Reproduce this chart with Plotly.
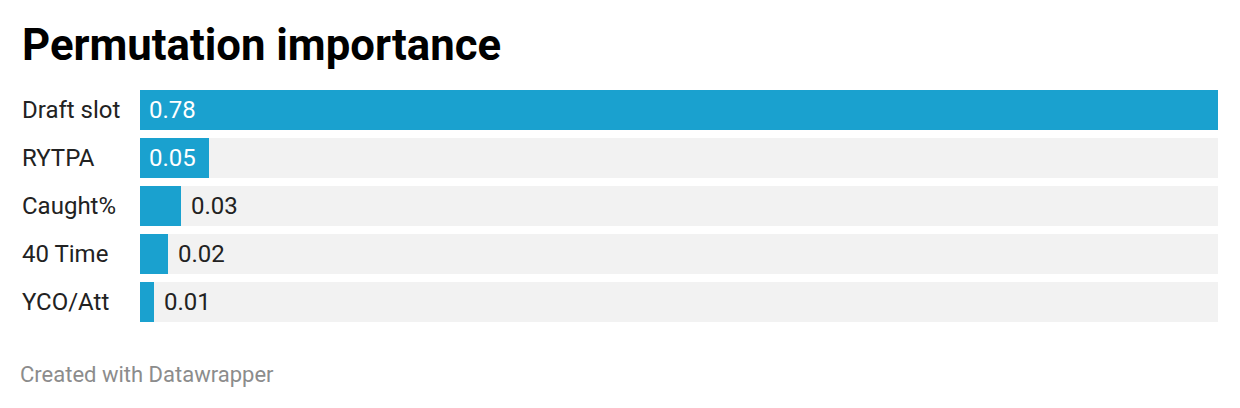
import plotly.graph_objects as go

categories = ["Draft slot", "RYTPA", "Caught%", "40 Time", "YCO/Att"]
values = [0.78, 0.05, 0.03, 0.02, 0.01]
value_labels = ["0.78", "0.05", "0.03", "0.02", "0.01"]
inside_label = [True, True, False, False, False]

title = "Permutation importance"
footer = "Created with Datawrapper"

BAR = "#1aa1cf"
BG = "#f2f2f2"
FONT = "Roboto"
vmax = max(values)

fig = go.Figure()
fig.add_trace(go.Bar(
    y=categories, x=[vmax] * len(categories), orientation="h",
    marker=dict(color=BG, line=dict(width=0)), width=40 / 48,
    hoverinfo="skip", showlegend=False,
))
fig.add_trace(go.Bar(
    y=categories, x=values, orientation="h",
    marker=dict(color=BAR, line=dict(width=0)), width=40 / 48,
    showlegend=False,
))
fig.update_layout(barmode="overlay")

annotations = []
for c, v, lab, ins in zip(categories, values, value_labels, inside_label):
    annotations.append(dict(
        x=0 if ins else v, y=c, xref="x", yref="y", text=lab, showarrow=False,
        xanchor="left", yanchor="middle", xshift=7 if ins else 8,
        font=dict(family=FONT, size=24, color="#ffffff" if ins else "#222222"),
    ))
    annotations.append(dict(
        x=0, y=c, xref="paper", yref="y", text=c, showarrow=False,
        xanchor="left", yanchor="middle", xshift=-120,
        font=dict(family=FONT, size=24, color="#222222"),
    ))
annotations.append(dict(
    x=0, y=1, xref="paper", yref="paper", text="<b>" + title + "</b>",
    showarrow=False, xanchor="left", yanchor="bottom", xshift=-120, yshift=17,
    font=dict(family=FONT, size=43.7, color="#000000"),
))
annotations.append(dict(
    x=0, y=0, xref="paper", yref="paper", text=footer,
    showarrow=False, xanchor="left", yanchor="top", xshift=-122, yshift=-38,
    font=dict(family=FONT, size=22, color="#8c8c8c"),
))

fig.update_layout(
    width=1240, height=408,
    margin=dict(l=132, r=30, t=82, b=94),
    paper_bgcolor="white", plot_bgcolor="white",
    xaxis=dict(range=[0, vmax], visible=False, fixedrange=True),
    yaxis=dict(range=[4 + 20 / 48, -20 / 48], visible=False,
               categoryorder="array", categoryarray=categories, fixedrange=True),
    annotations=annotations,
    bargap=0,
)
fig.write_html("out.html")
